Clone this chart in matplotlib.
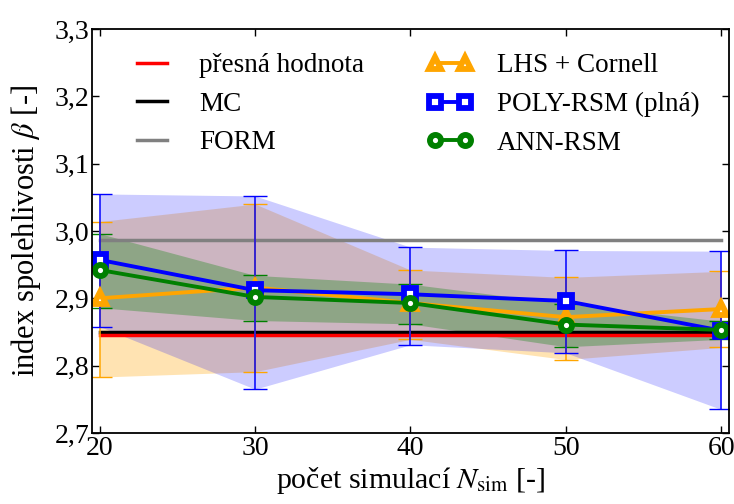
import numpy as np
import matplotlib
matplotlib.use("Agg")
import matplotlib.pyplot as plt
from matplotlib.ticker import FuncFormatter

plt.rcParams["font.family"] = ["Liberation Serif", "DejaVu Serif"]
plt.rcParams["mathtext.fontset"] = "stix"
plt.rcParams["font.size"] = 20

# data
n_sim = [20, 30, 40, 50, 60]
beta_exact = 2.846
beta_mc = 2.850
beta_form = 2.987

lhs_mean = [2.900, 2.916, 2.893, 2.872, 2.884]
lhs_low = [2.783, 2.791, 2.839, 2.809, 2.827]
lhs_high = [3.014, 3.040, 2.942, 2.931, 2.940]

poly_mean = [2.957, 2.912, 2.906, 2.896, 2.852]
poly_low = [2.858, 2.765, 2.831, 2.819, 2.735]
poly_high = [3.055, 3.052, 2.976, 2.971, 2.970]

ann_mean = [2.942, 2.902, 2.893, 2.861, 2.853]
ann_low = [2.886, 2.867, 2.862, 2.828, 2.839]
ann_high = [2.996, 2.934, 2.921, 2.892, 2.866]

fig = plt.figure(figsize=(7.34, 5.04), dpi=100)
ax = fig.add_axes([0.1253, 0.141, 0.8677, 0.8015])

x = np.array(n_sim)

# shaded bands
ax.fill_between(x, lhs_low, lhs_high, color="orange", alpha=0.3, lw=0)
ax.fill_between(x, poly_low, poly_high, color="blue", alpha=0.2, lw=0)
ax.fill_between(x, ann_low, ann_high, color="green", alpha=0.3, lw=0)

# reference lines
ax.plot([x[0], x[-1]], [beta_mc, beta_mc], color="black", lw=2.5, label="MC")
ax.plot([x[0], x[-1]], [beta_exact, beta_exact], color="red", lw=2.5, label="přesná hodnota")
ax.plot([x[0], x[-1]], [beta_form, beta_form], color="gray", lw=2.5, label="FORM")

series = [
    (lhs_mean, lhs_low, lhs_high, "orange", "^", "LHS + Cornell"),
    (poly_mean, poly_low, poly_high, "blue", "s", "POLY-RSM (plná)"),
    (ann_mean, ann_low, ann_high, "green", "o", "ANN-RSM"),
]
# error bars first (blue ones end up on top), then the lines
for i in [2, 0, 1]:
    mean, low, high, col, mk, lab = series[i]
    mean = np.array(mean)
    yerr = [mean - np.array(low), np.array(high) - mean]
    ax.errorbar(x, mean, yerr=yerr, fmt="none", ecolor=col, elinewidth=1.1, capsize=8.5, capthick=1)
for mean, low, high, col, mk, lab in series:
    ax.plot(x, mean, color=col, lw=2.8, marker=mk, ms=8, mfc="white", mec=col, mew=4.2, label=lab)

hl, ll = ax.get_legend_handles_labels()
order = ["přesná hodnota", "MC", "FORM", "LHS + Cornell", "POLY-RSM (plná)", "ANN-RSM"]
hmap = dict(zip(ll, hl))
ax.legend([hmap[k] for k in order], order, ncol=2, frameon=False, loc="upper left",
          bbox_to_anchor=(0.02, 1.0), numpoints=2, handlelength=1.7, handletextpad=0.9,
          columnspacing=2.3, labelspacing=0.5, fontsize=19.5)

ax.set_xlim(19.5, 60.5)
ax.set_ylim(2.7, 3.3)
ax.set_xticks(n_sim)
ax.set_yticks([2.7, 2.8, 2.9, 3.0, 3.1, 3.2, 3.3])
ax.yaxis.set_major_formatter(FuncFormatter(lambda v, p: f"{v:.1f}".replace(".", ",")))
ax.tick_params(direction="in", top=True, right=True, length=5, width=1, pad=2, labelsize=20)
for s in ax.spines.values():
    s.set_linewidth(1.3)

ax.set_xlabel(r"počet simulací $N_{\rm sim}$ [-]", fontsize=21.5, labelpad=3)
ax.set_ylabel(r"index spolehlivosti $\beta$ [-]", fontsize=22, labelpad=8)

fig.savefig("out.png", dpi=100)
